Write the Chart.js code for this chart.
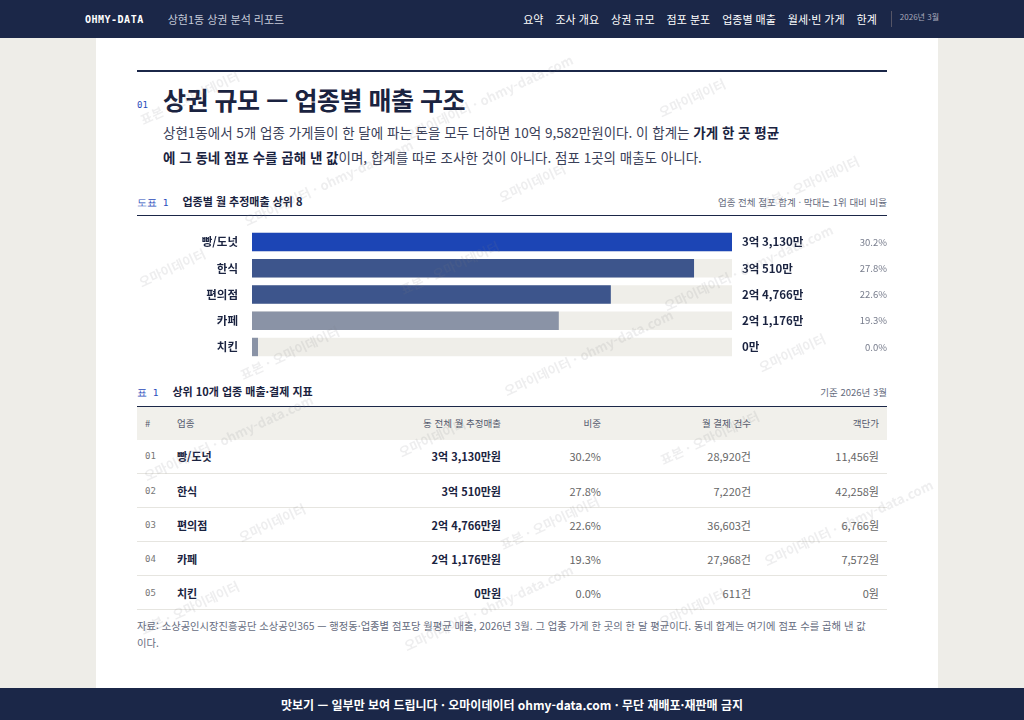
<!DOCTYPE html>
<html lang="ko"><head><meta charset="utf-8">
<script src="https://cdn.jsdelivr.net/npm/chart.js@4"></script>
<style>
*{box-sizing:border-box;margin:0;padding:0}
body{width:1024px;height:720px;overflow:hidden;background:#eeede8;font-family:"Noto Sans CJK KR","Noto Sans",sans-serif;color:#1a2340;position:relative}
.nav{height:38px;background:#1b2748;color:#fff;display:flex;align-items:center;padding:0 85px;font-size:11px}
.nav b{font-family:"DejaVu Sans Mono",monospace;font-size:10px;letter-spacing:.5px;margin-right:24px}
.nav .sub{color:#c5cad8}
.nav .menu{margin-left:auto;display:flex;gap:12px}
.nav .date{font-size:8px;color:#aab;border-left:1px solid #556;padding-left:8px;margin-left:2px}
.page{position:absolute;left:96px;top:38px;width:842px;height:650px;background:#fff}
.in{position:absolute;left:41px;width:750px}
.rule{top:32px;border-top:2px solid #1b2748;height:0}
h1{position:absolute;top:43px;left:67px;font-size:25px;font-weight:700;letter-spacing:-.5px}
.num{position:absolute;top:62px;left:41px;font-family:"DejaVu Sans Mono",monospace;font-size:9px;color:#2a4bbb}
.lead{position:absolute;top:82px;left:67px;width:645px;font-size:13.5px;line-height:25px;color:#3a4058}
.lead b{color:#1a2340}
.cap{font-size:11px;font-weight:700;display:flex;align-items:baseline}
.cap i{font-style:normal;color:#2a4bbb;font-family:"DejaVu Sans Mono",monospace;font-size:9.5px;margin-right:14px;font-weight:400}
.cap span{margin-left:auto;font-weight:400;color:#666c7e;font-size:9.5px}
table{border-collapse:collapse;width:750px;font-size:11px;table-layout:fixed}
th{background:#f1f0eb;height:33px;font-weight:400;font-size:9.5px;color:#555b6e;border-top:1px solid #1b2748}
td{height:34px;border-bottom:1px solid #e6e5e0}
th,td{padding:0 8px;text-align:right}
.l{text-align:left}
td.n{font-family:"DejaVu Sans Mono",monospace;font-size:9px;color:#777;text-align:left}
td.b{font-weight:700}
td.g{color:#666}
.src{font-size:10.3px;color:#666c7e;line-height:17px}
.foot{position:absolute;left:0;top:688px;width:1024px;height:32px;background:#1b2748;color:#fff;font-size:12px;font-weight:700;display:flex;align-items:center;justify-content:center}
.wm{position:absolute;left:96px;top:38px;width:842px;height:650px;pointer-events:none;overflow:hidden}
.wm div{position:absolute;transform:rotate(-25deg);font-size:13px;color:rgba(120,120,130,.13);white-space:nowrap;font-weight:700}
</style></head><body>
<div class="nav"><b>OHMY-DATA</b><span class="sub">상현1동 상권 분석 리포트</span>
<div class="menu"><span>요약</span><span>조사 개요</span><span>상권 규모</span><span>점포 분포</span><span>업종별 매출</span><span>월세·빈 가게</span><span>한계</span><span class="date">2026년 3월</span></div></div>
<div class="page">
<div class="in rule"></div>
<div class="num">01</div>
<h1>상권 규모 — 업종별 매출 구조</h1>
<div class="lead">상현1동에서 5개 업종 가게들이 한 달에 파는 돈을 모두 더하면 10억 9,582만원이다. 이 합계는 <b>가게 한 곳 평균<br>에 그 동네 점포 수를 곱해 낸 값</b>이며, 합계를 따로 조사한 것이 아니다. 점포 1곳의 매출도 아니다.</div>
<div class="in cap" style="top:155px"><i>도표 1</i>업종별 월 추정매출 상위 8<span>업종 전체 점포 합계 · 막대는 1위 대비 비율</span></div>
<div class="in" style="top:177px;border-top:1px solid #1b2748"></div>
<div class="in" style="top:178px;height:157px"><canvas id="c" width="750" height="157"></canvas></div>
<div class="in cap" style="top:345px"><i>표 1</i>상위 10개 업종 매출·결제 지표<span>기준 2026년 3월</span></div>
<div class="in" style="top:368px"><table id="t"></table></div>
<div class="in src" style="top:579px">자료: 소상공인시장진흥공단 소상공인365 — 행정동·업종별 점포당 월평균 매출, 2026년 3월. 그 업종 가게 한 곳의 한 달 평균이다. 동네 합계는 여기에 점포 수를 곱해 낸 값<br>이다.</div>
</div>
<div class="wm" id="wm"></div>
<div class="foot">맛보기 — 일부만 보여 드립니다 · 오마이데이터 ohmy-data.com · 무단 재배포·재판매 금지</div>
<script>
const categories = ["빵/도넛", "한식", "편의점", "카페", "치킨"];
const salesMan = [33130, 30510, 24766, 21176, 0];     // 월 추정매출 (만원)
const valueLabels = ["3억 3,130만", "3억 510만", "2억 4,766만", "2억 1,176만", "0만"];
const shares = ["30.2%", "27.8%", "22.6%", "19.3%", "0.0%"];
const payments = ["28,920건", "7,220건", "36,603건", "27,968건", "611건"];
const perTicket = ["11,456원", "42,258원", "6,766원", "7,572원", "0원"];
const barColors = ["#1c45b5", "#3d558c", "#3d558c", "#8a93a6", "#8a93a6"];

const maxVal = Math.max(...salesMan);

const sideText = {
  id: "sideText",
  afterDatasetsDraw(chart) {
    const ctx = chart.ctx;
    const meta = chart.getDatasetMeta(1);
    ctx.save();
    ctx.textBaseline = "middle";
    meta.data.forEach((bar, i) => {
      ctx.fillStyle = "#1a2340";
      ctx.font = "bold 11.5px 'Noto Sans CJK KR'";
      ctx.textAlign = "left";
      ctx.fillText(valueLabels[i], chart.chartArea.right + 10, bar.y);
      ctx.fillStyle = "#777c8c";
      ctx.font = "9.5px 'Noto Sans CJK KR'";
      ctx.textAlign = "right";
      ctx.fillText(shares[i], chart.width, bar.y);
    });
    ctx.restore();
  }
};

new Chart(document.getElementById("c"), {
  type: "bar",
  data: {
    labels: categories,
    datasets: [
      { data: categories.map(() => maxVal), backgroundColor: "#efeee9", barPercentage: 0.7, categoryPercentage: 1, order: 2 },
      { data: salesMan, backgroundColor: barColors, barPercentage: 0.7, categoryPercentage: 1, minBarLength: 6, order: 1 }
    ]
  },
  options: {
    indexAxis: "y",
    animation: false,
    responsive: false,
    layout: { padding: { right: 155 } },
    plugins: { legend: { display: false }, tooltip: { enabled: false } },
    datasets: { bar: { grouped: false } },
    scales: {
      x: { display: false, min: 0, max: maxVal },
      y: {
        grid: { display: false }, border: { display: false },
        ticks: { color: "#1a2340", font: { size: 11.5, weight: "bold", family: "Noto Sans CJK KR" }, padding: 6 },
        afterFit(s) { s.width = 115; }
      }
    }
  },
  plugins: [sideText]
});

let html = '<colgroup><col style="width:32px"><col style="width:150px"><col style="width:190px"><col style="width:100px"><col style="width:150px"><col style="width:128px"></colgroup>';
html += '<tr><th class="l">#</th><th class="l">업종</th><th>동 전체 월 추정매출</th><th>비중</th><th>월 결제 건수</th><th>객단가</th></tr>';
categories.forEach((c, i) => {
  html += `<tr><td class="n">0${i + 1}</td><td class="l b">${c}</td><td class="b">${valueLabels[i]}원</td><td class="g">${shares[i]}</td><td class="g">${payments[i]}</td><td class="g">${perTicket[i]}</td></tr>`;
});
document.getElementById("t").innerHTML = html;

// 워터마크 (페이지 안쪽에만)
const wm = document.getElementById("wm");
const words = ["표본 · 오마이데이터", "오마이데이터 · ohmy-data.com", "오마이데이터"];
for (let r = 0; r < 7; r++) {
  for (let k = 0; k < 3; k++) {
    const d = document.createElement("div");
    d.textContent = words[(r + k) % 3];
    d.style.left = (40 + k * 260 + (r % 2) * 100) + "px";
    d.style.top = (50 + r * 85) + "px";
    wm.appendChild(d);
  }
}
</script>
</body></html>
